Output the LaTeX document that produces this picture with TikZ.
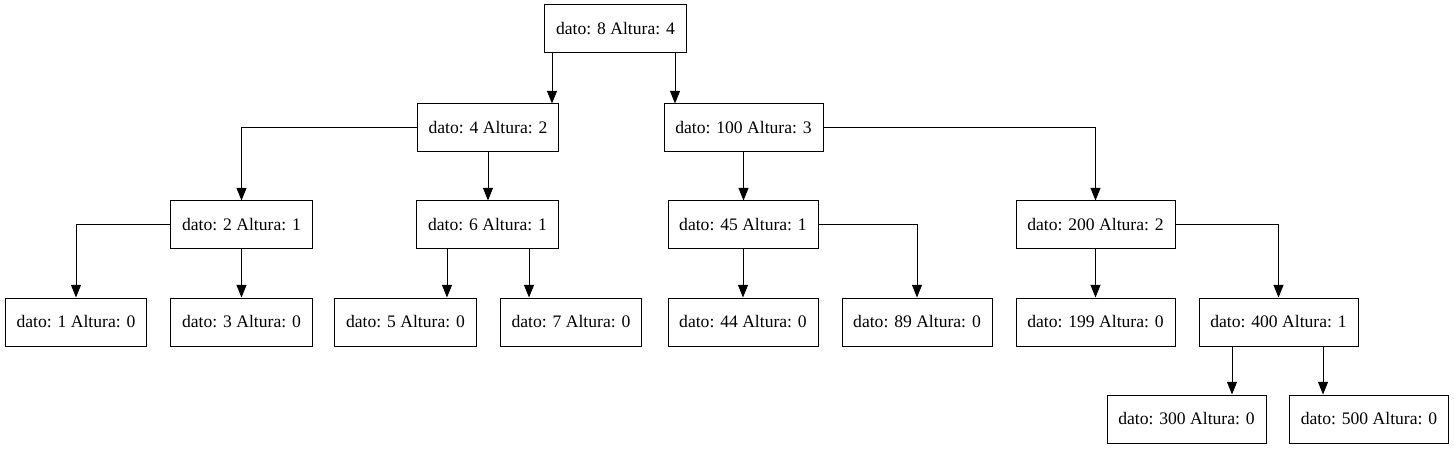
\documentclass[tikz,border=0pt]{standalone}
\usepackage{fontspec}
\setmainfont{Liberation Serif}
\usetikzlibrary{arrows.meta}
\begin{document}
\begin{tikzpicture}[x=0.75pt,y=-0.75pt,
  treebox/.style={draw,line width=0.75pt,rectangle,minimum height=36pt,inner sep=0pt,font=\fontsize{13.2pt}{15pt}\selectfont},
  w1/.style={treebox,minimum width=106pt},
  w2/.style={treebox,minimum width=112.5pt},
  w3/.style={treebox,minimum width=119.25pt},
  edge/.style={line width=0.75pt,-{Triangle[length=9.5pt,width=7.5pt]}}]
\useasboundingbox (0,0) rectangle (1454,449);
% level 0
\node[w1] (n8) at (615.5,29) {dato: 8 Altura: 4};
% level 1
\node[w1] (n4) at (488,128) {dato: 4 Altura: 2};
\node[w3] (n100) at (743.5,128) {dato: 100 Altura: 3};
% level 2
\node[w1] (n2) at (241.5,225) {dato: 2 Altura: 1};
\node[w1] (n6) at (487.5,225) {dato: 6 Altura: 1};
\node[w2] (n45) at (743,225) {dato: 45 Altura: 1};
\node[w3] (n200) at (1095.5,225) {dato: 200 Altura: 2};
% level 3
\node[w1] (n1) at (76,322) {dato: 1 Altura: 0};
\node[w1] (n3) at (241.5,322) {dato: 3 Altura: 0};
\node[w1] (n5) at (405.5,322) {dato: 5 Altura: 0};
\node[w1] (n7) at (571,322) {dato: 7 Altura: 0};
\node[w2] (n44) at (743,322) {dato: 44 Altura: 0};
\node[w2] (n89) at (917,322) {dato: 89 Altura: 0};
\node[w3] (n199) at (1095.5,322) {dato: 199 Altura: 0};
\node[w3] (n400) at (1278.5,322) {dato: 400 Altura: 1};
% level 4
\node[w3] (n300) at (1186.5,419) {dato: 300 Altura: 0};
\node[w3] (n500) at (1369,419) {dato: 500 Altura: 0};
% edge columns
\coordinate (c1) at (552,0);
\coordinate (c2) at (675,0);
\coordinate (c3) at (447,0);
\coordinate (c4) at (529,0);
\coordinate (c5) at (1232,0);
\coordinate (c6) at (1323,0);
% edges
\draw[edge] (n8.south -| c1) -- (n4.north -| c1);
\draw[edge] (n8.south -| c2) -- (n100.north -| c2);
\draw[edge] (n4.west) -| (n2.north);
\draw[edge] (n4.south) -- (n4.south |- n6.north);
\draw[edge] (n100.south) -- (n100.south |- n45.north);
\draw[edge] (n100.east) -| (n200.north);
\draw[edge] (n2.west) -| (n1.north);
\draw[edge] (n2.south) -- (n3.north);
\draw[edge] (n6.south -| c3) -- (n5.north -| c3);
\draw[edge] (n6.south -| c4) -- (n7.north -| c4);
\draw[edge] (n45.south) -- (n44.north);
\draw[edge] (n45.east) -| (n89.north);
\draw[edge] (n200.south) -- (n199.north);
\draw[edge] (n200.east) -| (n400.north);
\draw[edge] (n400.south -| c5) -- (n300.north -| c5);
\draw[edge] (n400.south -| c6) -- (n500.north -| c6);
\end{tikzpicture}
\end{document}
